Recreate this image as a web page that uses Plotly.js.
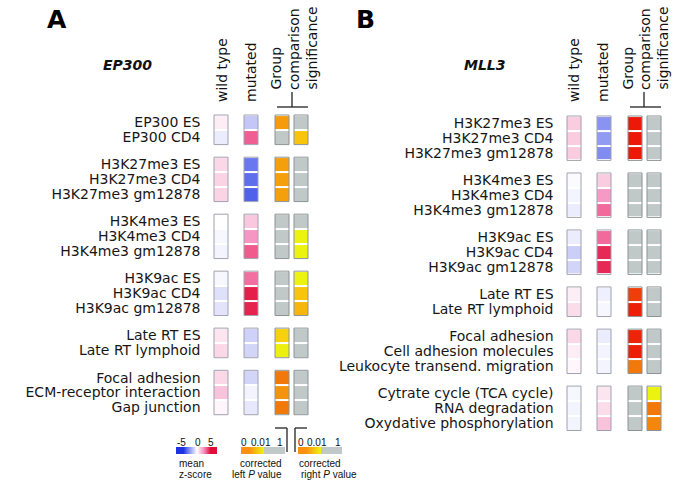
<!DOCTYPE html>
<html><head><meta charset="utf-8">
<script src="https://cdn.plot.ly/plotly-3.0.1.min.js"></script>
<style>body{margin:0;background:#fff}#chart{width:685px;height:484px}</style>
</head><body><div id="chart"></div>
<script>
// ---------- DATA ----------
// Panel A : EP300
const labelsA = ["EP300 ES","EP300 CD4",
  "H3K27me3 ES","H3K27me3 CD4","H3K27me3 gm12878",
  "H3K4me3 ES","H3K4me3 CD4","H3K4me3 gm12878",
  "H3K9ac ES","H3K9ac CD4","H3K9ac gm12878",
  "Late RT ES","Late RT lymphoid",
  "Focal adhesion","ECM-receptor interaction","Gap junction"];
const groupSizesA = [2,3,3,3,2,3];
const wildTypeA = [0.4,-0.5, 0.9,1.0,1.0, 0.0,-0.2,-0.3, -0.2,-0.8,-0.7, 0.6,0.9, 0.9,1.4,0.2];
const mutatedA  = [-1.5,3.5, -3.5,-3.7,-4.0, 1.3,2.5,3.6, 3.2,4.7,4.6, -1.2,-1.1, -1.1,-0.3,-0.6];
const leftPA    = [0.0033,1, 0.0035,0.0035,0.0035, 1,1,1, 1,1,1, 0.007,0.0095, 0.002,0.003,0.002];
const rightPA   = [1,0.006, 1,1,1, 1,0.0098,0.0098, 0.0098,0.006,0.005, 1,1, 1,1,1];

// Panel B : MLL3
const labelsB = ["H3K27me3 ES","H3K27me3 CD4","H3K27me3 gm12878",
  "H3K4me3 ES","H3K4me3 CD4","H3K4me3 gm12878",
  "H3K9ac ES","H3K9ac CD4","H3K9ac gm12878",
  "Late RT ES","Late RT lymphoid",
  "Focal adhesion","Cell adhesion molecules","Leukocyte transend. migration",
  "Cytrate cycle (TCA cycle)","RNA degradation","Oxydative phosphorylation"];
const groupSizesB = [3,3,3,2,3,3];
const wildTypeB = [1.2,1.2,1.2, -0.1,-0.3,-0.5, -0.5,-1.3,-1.1, 0.4,0.8, 0.9,0.4,0.2, -0.2,-0.3,-0.3];
const mutatedB  = [-2.8,-2.6,-3.0, 1.2,2.4,3.3, 3.3,4.5,4.5, -0.4,-0.2, -0.5,-0.3,-0.3, 0.6,0.8,1.4];
const leftPB    = [0.0001,0.0001,0.0001, 1,1,1, 1,1,1, 0.0008,0.0002, 0.0003,0.0002,0.002, 1,1,1];
const rightPB   = [1,1,1, 1,1,1, 1,1,1, 1,1, 1,1,1, 0.0098,0.002,0.0025];

const columnHeaders = ["wild type","mutated","Group","comparison","significance"];
const zScoreTicks = [-5,0,5];
const pValueTicks = [0,0.01,1];

// ---------- STYLE / LAYOUT CONSTANTS ----------
const W=685, H=484;
const fx=p=>p/W, fy=p=>1-p/H;
const GAP=0.85, UNIT_Y=14.8, UNIT_X=14, PAD=0.12;
const COL_LEFT=[0,2.143,4.357,5.714], X_MAX=6.714;
const FONT='DejaVu Sans';

const Z_SCALE=[[0,'rgb(30,50,225)'],[0.15,'rgb(105,120,238)'],[0.35,'rgb(195,198,246)'],
  [0.5,'rgb(255,255,255)'],[0.6,'rgb(250,212,229)'],[0.75,'rgb(245,150,195)'],
  [0.86,'rgb(240,90,140)'],[1,'rgb(225,15,55)']];
const P_MAX=0.0125;
const P_SCALE=[[0,'rgb(235,20,8)'],[0.06,'rgb(240,60,10)'],[0.16,'rgb(242,120,10)'],
  [0.26,'rgb(246,155,12)'],[0.5,'rgb(250,200,12)'],[0.8,'rgb(235,245,15)'],
  [0.8001,'rgb(192,200,200)'],[1,'rgb(192,200,200)']];
const LEG_P_SCALE=[[0,'rgb(250,145,15)'],[0.01,'rgb(240,240,20)'],[0.05,'rgb(192,200,200)'],[1,'rgb(192,200,200)']];

function buildPanel(sizes, wt, mut, lp, rp){
  const edges=[0], zZ=[], zP=[], tickvals=[], groups=[];
  let k=0;
  sizes.forEach((n,g)=>{
    const start=edges[edges.length-1];
    for(let i=0;i<n;i++){
      const y0=edges[edges.length-1];
      zZ.push([wt[k],null,mut[k]]);
      zP.push([lp[k],null,rp[k]]);
      tickvals.push(y0+0.5);
      edges.push(y0+1); k++;
    }
    groups.push([start, edges[edges.length-1]]);
    if(g<sizes.length-1){
      zZ.push([null,null,null]); zP.push([null,null,null]);
      edges.push(edges[edges.length-1]+GAP);
    }
  });
  return {edges,zZ,zP,tickvals,groups,total:edges[edges.length-1]};
}

const panels=[
  {d:buildPanel(groupSizesA,wildTypeA,mutatedA,leftPA,rightPA), labels:labelsA, left:214, top:115, xa:'x', ya:'y'},
  {d:buildPanel(groupSizesB,wildTypeB,mutatedB,leftPB,rightPB), labels:labelsB, left:567, top:116, xa:'x2', ya:'y2'}
];

const traces=[], shapes=[], layout={
  width:W,height:H,margin:{l:0,r:0,t:0,b:0},paper_bgcolor:'#fff',plot_bgcolor:'rgba(0,0,0,0)',
  showlegend:false,font:{family:FONT,color:'#111'}
};

panels.forEach((p,i)=>{
  const d=p.d;
  const zx=[COL_LEFT[0],COL_LEFT[0]+1,COL_LEFT[1],COL_LEFT[1]+1];
  const px=[COL_LEFT[2],COL_LEFT[2]+1,COL_LEFT[3],COL_LEFT[3]+1];
  traces.push({type:'heatmap',x:zx,y:d.edges,z:d.zZ,zmin:-5,zmax:5,colorscale:Z_SCALE,
    showscale:false,ygap:2,xaxis:p.xa,yaxis:p.ya,hoverongaps:false});
  traces.push({type:'heatmap',x:px,y:d.edges,z:d.zP,zmin:0,zmax:P_MAX,colorscale:P_SCALE,
    showscale:false,ygap:2,xaxis:p.xa,yaxis:p.ya,hoverongaps:false});
  const xk=i===0?'xaxis':'xaxis2', yk=i===0?'yaxis':'yaxis2';
  layout[xk]={domain:[fx(p.left-PAD*UNIT_X),fx(p.left+(X_MAX+PAD)*UNIT_X)],range:[-PAD,X_MAX+PAD],
    visible:false,fixedrange:true,anchor:p.ya.replace('y','y')};
  layout[yk]={domain:[fy(p.top+(d.total+PAD)*UNIT_Y),fy(p.top-PAD*UNIT_Y)],range:[d.total+PAD,-PAD],
    anchor:p.xa,tickmode:'array',tickvals:d.tickvals,ticktext:p.labels,ticks:'outside',ticklen:8,
    tickcolor:'rgba(0,0,0,0)',showline:false,showgrid:false,zeroline:false,fixedrange:true,
    tickfont:{family:FONT,size:14,color:'#161616'}};
  d.groups.forEach(g=>{
    COL_LEFT.forEach((c,ci)=>{
      shapes.push({type:'rect',xref:p.xa,yref:p.ya,x0:c,x1:c+1,y0:g[0],y1:g[1],
        line:{color:ci<2?'rgb(160,160,175)':'rgb(140,146,148)',width:1},layer:'above'});
    });
  });
});
layout.xaxis.anchor='y'; layout.xaxis2.anchor='y2';

// legend colour bars
const legBars=[
  {z:[zScoreTicks],zmin:-5,zmax:5,cs:Z_SCALE,x0:176,x1:217},
  {z:[pValueTicks],zmin:0,zmax:1,cs:LEG_P_SCALE,x0:241,x1:285},
  {z:[pValueTicks],zmin:0,zmax:1,cs:LEG_P_SCALE,x0:298,x1:342}
];
legBars.forEach((b,i)=>{
  const n=i+3;
  traces.push({type:'heatmap',z:b.z,zmin:b.zmin,zmax:b.zmax,colorscale:b.cs,zsmooth:'best',
    showscale:false,xaxis:'x'+n,yaxis:'y'+n,hoverinfo:'skip'});
  layout['xaxis'+n]={domain:[fx(b.x0),fx(b.x1)],range:[-0.5,2.5],visible:false,fixedrange:true,anchor:'y'+n};
  layout['yaxis'+n]={domain:[fy(454),fy(447)],range:[-0.5,0.5],visible:false,fixedrange:true,anchor:'x'+n};
});

// header decoration lines (pixel-placed)
function pline(x0,y0,x1,y1,w){shapes.push({type:'line',xref:'paper',yref:'paper',x0:fx(x0),y0:fy(y0),x1:fx(x1),y1:fy(y1),line:{color:'#222',width:w||1.3}});}
pline(277,107,308,107); pline(292,92,292,107);
pline(630,107,661,107); pline(644,92,644,107);
// legend brackets
pline(275,428,287,428); pline(287,428,287,452);
pline(295,428,295,452); pline(295,428,307,428);

const ann=[];
function A(text,x,y,opt){ann.push(Object.assign({text:text,xref:'paper',yref:'paper',x:fx(x),y:fy(y),
  showarrow:false,xanchor:'center',yanchor:'middle',font:{family:FONT,size:14,color:'#111'}},opt||{}));}
A('<b>A</b>',57,19,{font:{family:FONT,size:25,color:'#000'}});
A('<b>B</b>',366,19,{font:{family:FONT,size:25,color:'#000'}});
A('<b><i>EP300</i></b>',128,65);
A('<b><i>MLL3</i></b>',485,65);
const hdrA=[[222,104],[251,104],[275,92],[294,92],[311,92]];
const hdrB=[[574,104],[603,104],[627,92],[645,92],[662,92]];
[hdrA,hdrB].forEach(h=>h.forEach((q,i)=>A(columnHeaders[i],q[0],q[1],{textangle:-90,yanchor:'bottom'})));
// legend texts
const LF={family:'Liberation Sans',size:10,color:'#111'};
const lt=[[181,198,211],[244,261,280],[301,317,338]];
lt[0].forEach((x,i)=>A(String(zScoreTicks[i]),x,442,{font:LF}));
lt[1].forEach((x,i)=>A(String(pValueTicks[i]),x,442,{font:LF}));
lt[2].forEach((x,i)=>A(String(pValueTicks[i]),x,442,{font:LF}));
A('mean',177,463,{font:LF,xanchor:'left'});
A('z-score',177,474,{font:LF,xanchor:'left'});
A('corrected',261,463,{font:LF});
A('left <i>P</i> value',257,474,{font:LF});
A('corrected',320,463,{font:LF});
A('right <i>P</i> value',299,474,{font:LF,xanchor:'left'});
layout.annotations=ann;
layout.shapes=shapes;

Plotly.newPlot('chart',traces,layout,{staticPlot:true,displayModeBar:false});
</script></body></html>
